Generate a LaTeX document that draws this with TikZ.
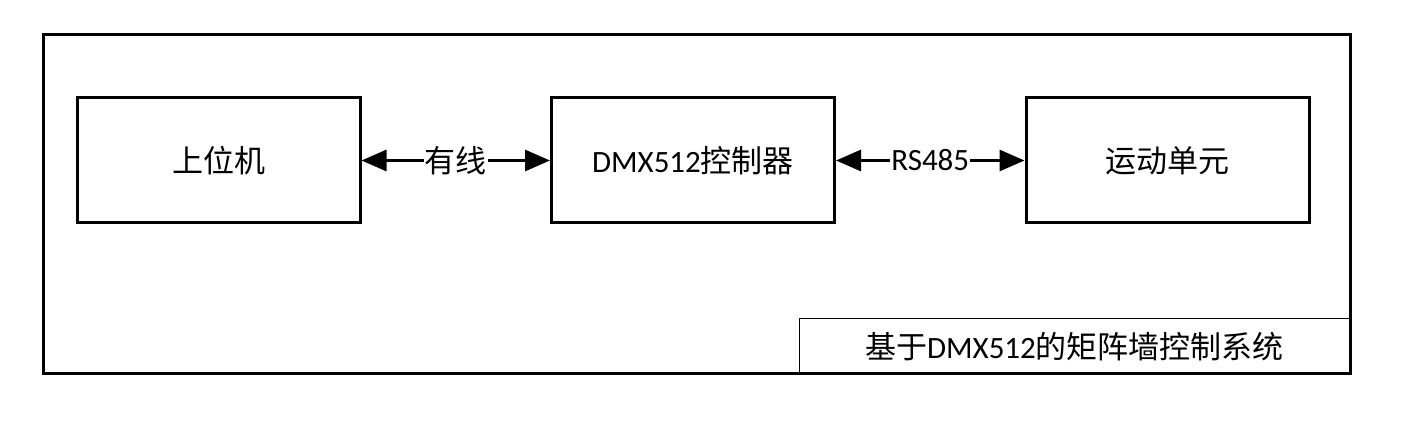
\documentclass[tikz,border=0pt]{standalone}
\usepackage{fontspec}
\setmainfont{Carlito}
\newfontfamily\cjk{Noto Sans CJK SC}
\usetikzlibrary{arrows.meta,positioning}

\begin{document}
\begin{tikzpicture}
[x=0.5pt,y=-0.5pt,
  framedecorate/.style={draw,line width=1.5pt,minimum width=653.5pt,minimum height=169.5pt,inner sep=0pt},
  boxdecorate/.style={draw,line width=1.5pt,minimum width=141.5pt,minimum height=62.5pt,font=\fontsize{15.5}{18}\selectfont},
  titledecorate/.style={draw,line width=0.5pt,minimum width=275.5pt,minimum height=28pt,font=\fontsize{15.5}{18}\selectfont},
  arrowdecorate/.style={arrows={Triangle[length=12.5pt,width=10.5pt]-Triangle[length=12.5pt,width=10.5pt]},line width=1.5pt},
  labeldecorate/.style={fill=white,inner xsep=0.5pt,inner ysep=1pt,font=\fontsize{15.5}{18}\selectfont}]
\useasboundingbox (0,0) rectangle (1407,421);
%% outer frame and its title
\node (frame) at (696.5,204.5) [framedecorate] {};
\node (title) [titledecorate,anchor=south east] at ([xshift=-0.5pt]frame.south east) {{\cjk 基于}DMX512{\cjk 的矩阵墙控制系统}};
%% blocks
\foreach \nodename/\x/\nodetext in {
  pc/218.5/{{\cjk 上位机}}, ctrl/693/{DMX512{\cjk 控制器}}, unit/1167.5/{{\cjk 运动单元}}} {
  \node (\nodename) at (\x,160.5) [boxdecorate] {\nodetext};
}
%% links
\draw[arrowdecorate] (pc) -- node[labeldecorate] {\cjk 有线} (ctrl);
\draw[arrowdecorate] (ctrl) -- node[labeldecorate] {RS485} (unit);
\end{tikzpicture}
\end{document}
